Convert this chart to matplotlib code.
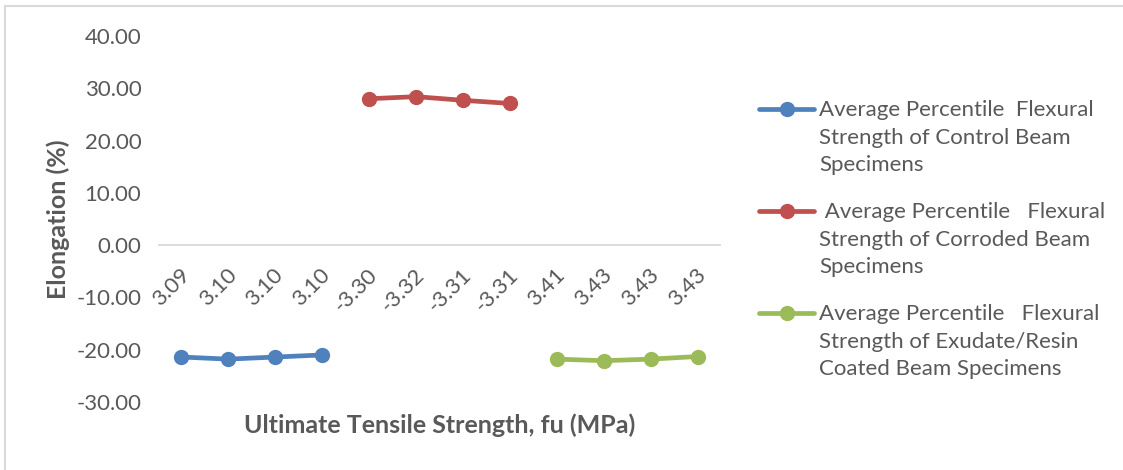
import numpy as np
import matplotlib
matplotlib.use("Agg")
import matplotlib.pyplot as plt
from matplotlib.lines import Line2D
from matplotlib.legend_handler import HandlerLine2D
from matplotlib.transforms import ScaledTranslation

categories = ['3.09', '3.10', '3.10', '3.10', '-3.30', '-3.32', '-3.31', '-3.31',
              '3.41', '3.43', '3.43', '3.43']
nan = np.nan
control = [-21.4, -21.8, -21.4, -21.0, nan, nan, nan, nan, nan, nan, nan, nan]
corroded = [nan, nan, nan, nan, 28.0, 28.4, 27.7, 27.1, nan, nan, nan, nan]
coated = [nan, nan, nan, nan, nan, nan, nan, nan, -21.8, -22.1, -21.8, -21.3]
yticks = [-30, -20, -10, 0, 10, 20, 30, 40]
labels = ["Average Percentile  Flexural\nStrength of Control Beam\nSpecimens",
          " Average Percentile   Flexural\nStrength of Corroded Beam\nSpecimens",
          "Average Percentile   Flexural\nStrength of Exudate/Resin\nCoated Beam Specimens"]
colors = ['#4F81BD', '#C0504D', '#9BBB59']

plt.rcParams['font.family'] = ['Lato', 'DejaVu Sans']
txt = '#595959'

W, H = 1123, 470
fig = plt.figure(figsize=(W / 100, H / 100), dpi=100)
ax = fig.add_axes([158 / W, 1 - 402 / H, (721 - 158) / W, (402 - 36) / H])

x = np.arange(len(categories))
for ys, c, lab in zip([control, corroded, coated], colors, labels):
    ax.plot(x, ys, color=c, lw=3.4, marker='o', ms=10, label=lab,
            solid_capstyle='round')

ax.set_xlim(-0.5, len(categories) - 0.5)
ax.set_ylim(-30, 40)
ax.axhline(0, color='#D9D9D9', lw=1.3, zorder=0)
for s in ax.spines.values():
    s.set_visible(False)
ax.spines['bottom'].set_position(('data', 0))
ax.set_yticks(yticks)
ax.set_yticklabels([f"{v:.2f}" for v in yticks])
ax.set_xticks(x)
ax.set_xticklabels(categories, rotation=45, ha='right', va='center',
                   rotation_mode='anchor')
ax.tick_params(axis='y', length=0, pad=12, labelsize=16, labelcolor=txt)
ax.tick_params(axis='x', length=0, pad=19, labelsize=16, labelcolor=txt)
for lbl in ax.get_xticklabels():
    lbl.set_transform(lbl.get_transform() + ScaledTranslation(5 / 100, 0, fig.dpi_scale_trans))

ax.set_ylabel('Elongation (%)', fontsize=18, fontweight='bold', color=txt)
ax.yaxis.set_label_coords((58 - 158) / (721 - 158), 0.5)
ax.yaxis.label.set_va('center')
ax.set_xlabel('Ultimate Tensile Strength, fu (MPa)', fontsize=18, fontweight='bold',
              color=txt)
ax.xaxis.set_label_coords(0.5, (402 - 425) / (402 - 36))
ax.xaxis.label.set_va('center')


class TopHandler(HandlerLine2D):
    def create_artists(self, legend, orig_handle, xdescent, ydescent, width,
                       height, fontsize, trans):
        arts = super().create_artists(legend, orig_handle, xdescent, ydescent,
                                      width, height, fontsize, trans)
        for a in arts:
            a.set_ydata(np.asarray(a.get_ydata(), dtype=float) + 21.0)
        return arts


leg = fig.legend(loc='upper left', bbox_to_anchor=(750 / W, 1 - 91 / H), frameon=False,
                 fontsize=16, labelcolor=txt, handlelength=2.5, handletextpad=0.2,
                 labelspacing=1.2, borderaxespad=0,
                 handler_map={Line2D: TopHandler()})
for t in leg.get_texts():
    t.set_linespacing(1.48)

# figure border (left and top)
fig.add_artist(Line2D([5 / W, 5 / W], [0, 1 - 6 / H], color='#D9D9D9', lw=1.5,
                      transform=fig.transFigure))
fig.add_artist(Line2D([5 / W, 1], [1 - 6 / H, 1 - 6 / H], color='#D9D9D9', lw=1.5,
                      transform=fig.transFigure))

fig.savefig('out.png', dpi=100)
